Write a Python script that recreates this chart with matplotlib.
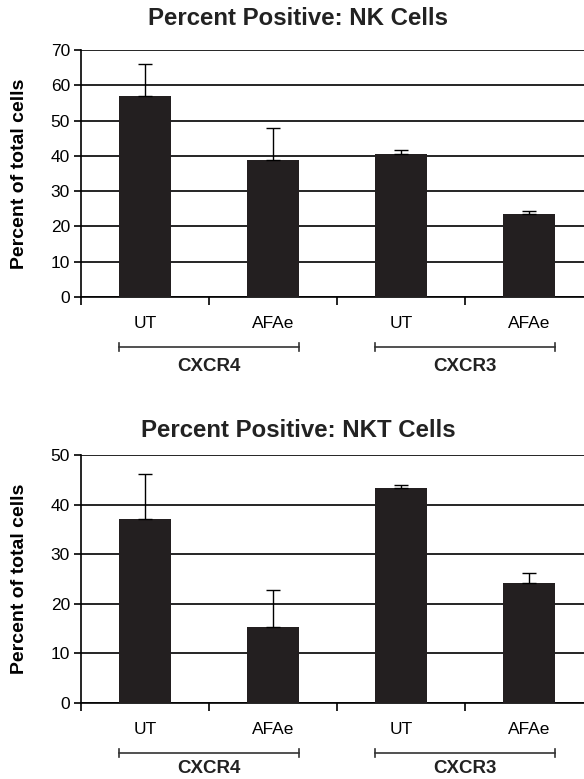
import matplotlib
matplotlib.use("Agg")
import matplotlib.pyplot as plt
import matplotlib.transforms as mtransforms

plt.rcParams['font.family'] = ['Liberation Sans', 'DejaVu Sans']

# dane
treatments = ["UT", "AFAe", "UT", "AFAe"]
receptors = ["CXCR4", "CXCR3"]

nk_means = [57.0, 38.8, 40.5, 23.5]
nk_err = [8.9, 9.1, 1.2, 0.8]

nkt_means = [37.1, 15.3, 43.4, 24.2]
nkt_err = [9.1, 7.5, 0.6, 1.9]

bar_color = "#231f20"
bar_w = 0.41


def rysujPanel(ax, means, errs, title, ymax, title_y, label_y):
    x = range(len(means))
    ax.bar(x, means, width=bar_w, color=bar_color, zorder=3)
    ax.errorbar(x, means, yerr=[[0] * len(errs), errs], fmt="none",
                ecolor="black", elinewidth=1, capsize=5, capthick=1, zorder=4)

    ax.set_xlim(-0.5, 3.5)
    ax.set_ylim(0, ymax)
    ax.set_yticks(range(0, ymax + 1, 10))
    ax.grid(axis="y", color="black", linewidth=1.2, zorder=1)
    ax.set_axisbelow(True)

    for s in ["top", "right"]:
        ax.spines[s].set_visible(False)
    ax.spines["left"].set_linewidth(1.2)
    ax.spines["bottom"].set_linewidth(1.2)

    # podziałki osi x na granicach kategorii, etykiety pośrodku
    ax.set_xticks([-0.5, 0.5, 1.5, 2.5, 3.5])
    ax.set_xticklabels([])
    ax.set_xticks(list(x), minor=True)
    ax.set_xticklabels(treatments, minor=True, fontsize=12.5)
    ax.tick_params(axis="x", which="major", length=6, width=1.2, direction="out")
    ax.tick_params(axis="x", which="minor", length=0, pad=14)
    ax.tick_params(axis="y", length=5, width=1.2, labelsize=12.5, pad=3)

    ax.set_ylabel("Percent of total cells", fontsize=14, fontweight="bold")
    ax.yaxis.set_label_coords(-0.104, 0.5)

    # nawiasy pod grupami
    trans = mtransforms.blended_transform_factory(ax.transData, ax.transAxes)
    for i, name in enumerate(receptors):
        x0 = 2 * i - bar_w / 2
        x1 = 2 * i + 1 + bar_w / 2
        ax.plot([x0, x1], [-0.202, -0.202], color="#333333", lw=1.2,
                transform=trans, clip_on=False)
        for xe in (x0, x1):
            ax.plot([xe, xe], [-0.187, -0.217], color="#333333", lw=1.2,
                    transform=trans, clip_on=False)
        ax.text((x0 + x1) / 2, label_y, name, transform=trans, ha="center",
                va="center", fontsize=13.5, fontweight="bold", color="#222222")

    ax.figure.text(0.51, title_y, title, ha="center", va="center",
                   fontsize=17.3, fontweight="bold", color="#222222")


fig = plt.figure(figsize=(5.84, 7.79), dpi=100)
ax1 = fig.add_axes([0.1387, 0.6187, 0.8767, 0.3171])
ax2 = fig.add_axes([0.1387, 0.0976, 0.8767, 0.3184])

rysujPanel(ax1, nk_means, nk_err, "Percent Positive: NK Cells", 70, 0.976, -0.28)
rysujPanel(ax2, nkt_means, nkt_err, "Percent Positive: NKT Cells", 50, 0.448, -0.266)

fig.savefig("out.png", dpi=100)
